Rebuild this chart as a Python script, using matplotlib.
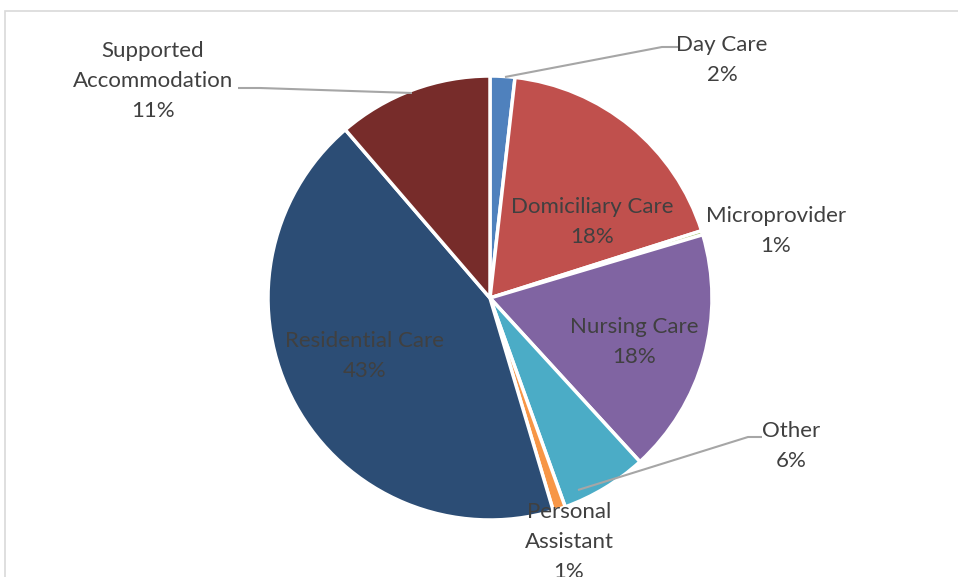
import matplotlib.pyplot as plt
from matplotlib.patches import Rectangle

# Cuota por tipo de servicio (%), en el orden de las agujas del reloj desde arriba
categorias = ["Day Care", "Domiciliary Care", "Microprovider", "Nursing Care",
              "Other", "Personal Assistant", "Residential Care", "Supported Accommodation"]
valores = [1.8, 18.3, 0.3, 17.8, 6.3, 0.9, 43.3, 11.3]
etiquetas = ["Day Care\n2%", "Domiciliary Care\n18%", "Microprovider\n1%", "Nursing Care\n18%",
             "Other\n6%", "Personal\nAssistant\n1%", "Residential Care\n43%",
             "Supported\nAccommodation\n11%"]
colores = ["#4F81BD", "#C0504D", "#9BBB59", "#8064A2",
           "#4BACC6", "#F79646", "#2C4D75", "#772C2A"]

W, H = 958, 577
fig = plt.figure(figsize=(W / 100, H / 100), dpi=100)
ax = fig.add_axes([0, 0, 1, 1])

def py(y):
    # coordenada vertical en pixeles de la imagen -> datos
    return H - y

ax.pie(valores, colors=colores, startangle=90, counterclock=False,
       center=(490, py(298)), radius=222,
       wedgeprops=dict(edgecolor="white", linewidth=2.5))

# pie() fija sus propios limites, asi que se ponen despues
ax.set_xlim(0, W)
ax.set_ylim(0, H)
ax.set_aspect("equal")
ax.axis("off")

# posiciones de las etiquetas (pixeles)
pos = [(722, 60), (592, 222), (776, 231), (634, 342),
       (791, 446), (569, 542), (365, 356), (153, 81)]
for txt, (x, y) in zip(etiquetas, pos):
    ax.text(x, py(y), txt, ha="center", va="center", fontsize=16,
            family="Lato", color="#404040", linespacing=1.6)

# lineas guia
guia = dict(color="#A6A6A6", lw=1.5, solid_capstyle="butt")
ax.plot([505, 662, 678], [py(77), py(47), py(47)], **guia)
ax.plot([578, 748, 762], [py(490), py(437), py(437)], **guia)
ax.plot([238, 260, 412], [py(88), py(88), py(93)], **guia)

# marco del grafico (recortado por la imagen)
ax.add_patch(Rectangle((5, -20), 1000, py(11) + 20, fill=False,
                       edgecolor="#D9D9D9", lw=1.2, clip_on=False))

fig.savefig("out.png", dpi=100)
